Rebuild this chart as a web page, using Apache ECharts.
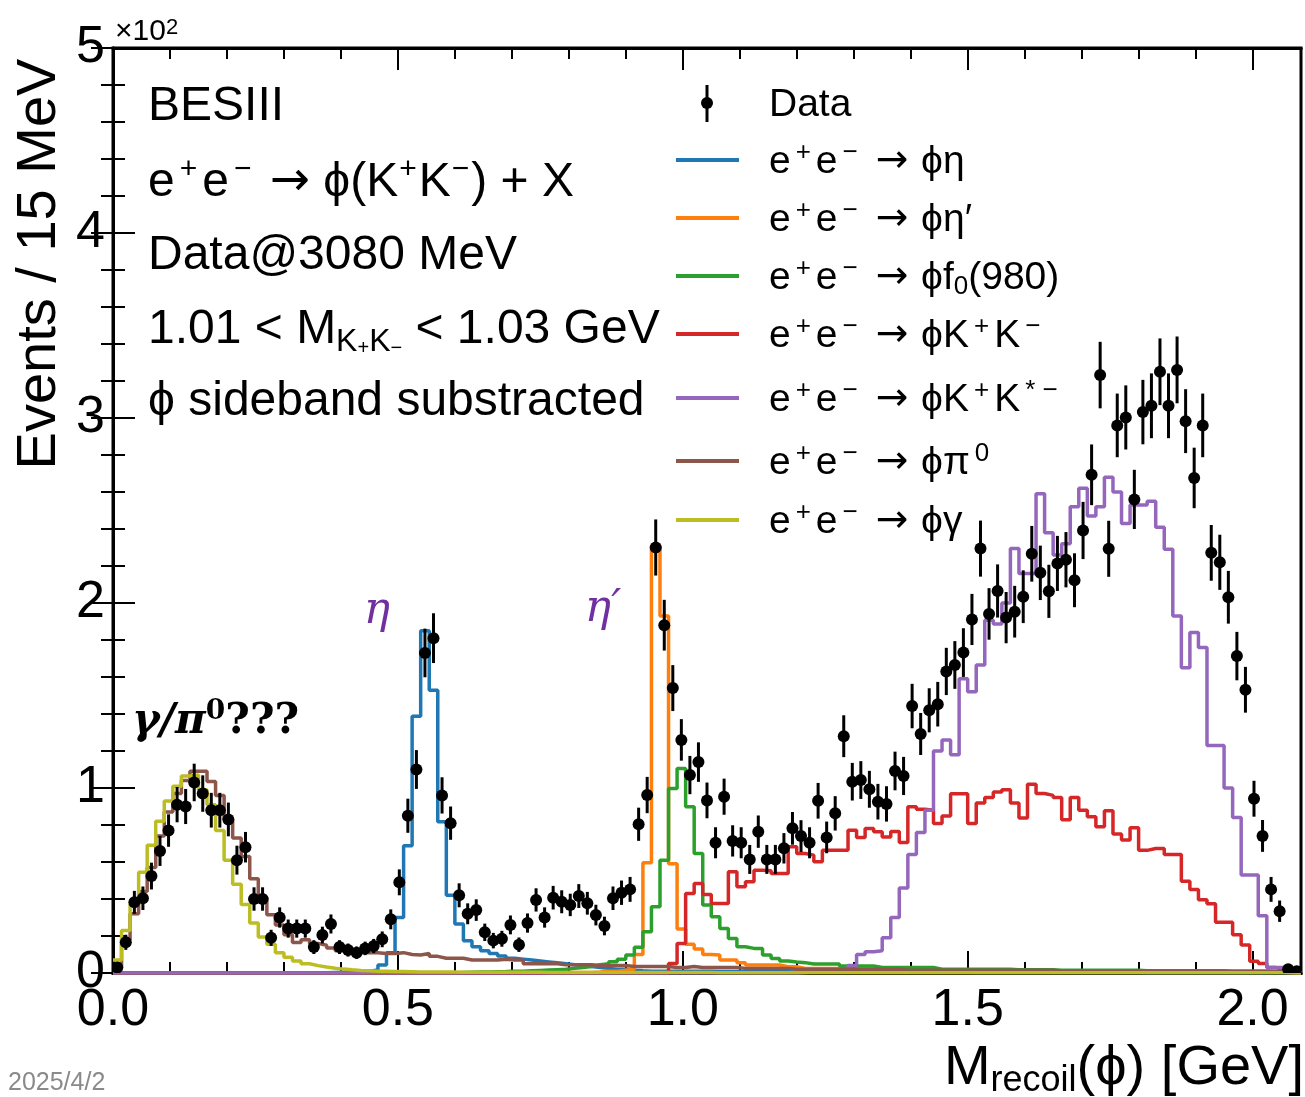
<!DOCTYPE html>
<html><head><meta charset="utf-8">
<script src="https://cdn.jsdelivr.net/npm/echarts/dist/echarts.min.js"></script>
<style>html,body{margin:0;padding:0;background:#fff}#c{width:1305px;height:1097px}</style>
</head><body><div id="c"></div>
<script>
// ---------------- DATA ----------------
const BIN_WIDTH = 0.015;   // GeV (15 MeV bins, starting at 0)
const X_MAX = 2.085;
const xTickLabels = ['0.0', '0.5', '1.0', '1.5', '2.0'];
const yTickLabels = ['0', '1', '2', '3', '4', '5'];

const dataCounts = [
  3, 16.6, 38.2, 40.4, 52.4, 66, 77, 91, 90, 103,
  97, 88, 88, 83, 61, 68, 40, 40, 19, 30,
  24, 24, 24, 14, 20.5, 26.5, 14, 12.4, 11, 13.3,
  14.6, 18.2, 29, 49, 85, 110, 173, 181, 96, 81,
  42, 32, 34, 22, 17.5, 18.5, 26, 15.3, 27, 39.5,
  30, 40.7, 38.5, 36.8, 41.6, 37.7, 31.3, 25.4, 40.4, 43.4,
  45.2, 80.4, 96.2, 230, 188, 154, 126, 107, 114, 93.3,
  70.4, 95.3, 71.4, 70.4, 61.4, 76.4, 61.4, 61.4, 67.4, 78.2,
  74, 70.4, 93.1, 73.3, 86.3, 128, 103.4, 104.3, 99.3, 92.6,
  91.4, 109.2, 106.5, 144.3, 129.2, 142, 145.3, 163, 166.5, 173.2,
  191.1, 229.4, 194.1, 206.5, 192.1, 195.3, 203.4, 226.6, 216.3, 206.3,
  221.4, 223.4, 212.3, 239.2, 269.3, 323.2, 229.3, 296, 300.3, 256,
  303.2, 306.6, 325, 306.6, 326, 298.3, 267.6, 296, 227.1, 222,
  203.1, 171.3, 153.1, 94.2, 74.1, 45.2, 33.4, 2, 1
];

const phiEta = [
  0, 0, 0, 0, 0, 0, 0, 0, 0, 0,
  0, 0, 0, 0, 0, 0, 0, 0, 0, 0,
  0, 0, 0, 0, 0.2, 0.3, 0.4, 0.5, 0.7, 1.0,
  1.6, 4.3, 11, 30, 68.8, 138.8, 185, 152.8, 81.7, 42,
  26.5, 17.5, 14.2, 12, 10.6, 9.2, 8, 7.5, 7, 6.5,
  6, 5.5, 5, 4.5, 4, 3.5, 3, 2.5, 2, 2,
  1.5, 1.2, 1, 1, 1, 1, 1, 1, 1, 1,
  0.8, 0.8, 0.8, 0.8, 0.8, 0.7, 0.7, 0.7, 0.7, 0.6,
  0.5, 0.5, 0.5, 0.5, 0.5, 0.5, 0.5, 0.5, 0.5, 0.5,
  0.4, 0.4, 0.4, 0.4, 0.4, 0.4, 0.4, 0.4, 0.4, 0.4,
  0.3, 0.3, 0.3, 0.3, 0.3, 0.3, 0.3, 0.3, 0.3, 0.3,
  0.3, 0.3, 0.3, 0.3, 0.3, 0.3, 0.3, 0.3, 0.3, 0.3,
  0.2, 0.2, 0.2, 0.2, 0.2, 0.2, 0.2, 0.2, 0.2, 0.2,
  0.2, 0.2, 0.2, 0.2, 0.1, 0.1, 0.1, 0.1, 0
];

const phiEtaPrime = [
  0, 0, 0, 0, 0, 0, 0, 0, 0, 0,
  0, 0, 0, 0, 0, 0, 0, 0, 0, 0,
  0, 0, 0, 0, 0, 0, 0, 0, 0, 0,
  0, 0, 0, 0, 0, 0, 0, 0, 0, 0,
  0.2, 0.2, 0.2, 0.2, 0.2, 0.2, 0.2, 0.2, 0.2, 0.2,
  0.3, 0.3, 0.3, 0.3, 0.3, 0.3, 0.5, 1, 1, 1.5,
  2, 10, 59.6, 231, 193, 59, 23.8, 15.5, 13, 10,
  9.7, 7, 7, 5.6, 4.3, 4.3, 4.3, 4.3, 3.4, 3.4,
  2.5, 2.5, 2.5, 2.5, 2.5, 2.5, 2, 2, 2, 2,
  1.5, 1.5, 1.5, 1.5, 1.5, 1.5, 1.5, 1.5, 1.5, 1.5,
  1, 1, 1, 1, 1, 1, 1, 1, 1, 1,
  1, 1, 1, 1, 1, 1, 1, 1, 1, 1,
  0.8, 0.8, 0.8, 0.8, 0.8, 0.8, 0.8, 0.8, 0.8, 0.8,
  0.6, 0.6, 0.6, 0.6, 0.5, 0.5, 0.4, 0.2, 0
];

const phiF0 = [
  0, 0, 0, 0, 0, 0, 0, 0, 0, 0,
  0, 0, 0, 0, 0, 0, 0, 0, 0, 0,
  0, 0, 0, 0, 0, 0, 0, 0, 0, 0,
  0, 0, 0, 0, 0, 0, 0, 0, 0, 0,
  0.3, 0.4, 0.5, 0.6, 0.7, 0.8, 1, 1, 1.2, 1.4,
  1.6, 1.8, 2, 2.5, 3, 3.5, 4.5, 5, 6.1, 7.4,
  9.7, 13.9, 22.3, 35.8, 61, 99.7, 110.5, 89.8, 64.6, 36.7,
  30.4, 24, 18.7, 14.2, 13.3, 13.3, 9.7, 7.9, 6.5, 6,
  5.6, 4.9, 4.9, 4.9, 4.9, 3.8, 3.8, 3.8, 3.8, 3,
  3, 3, 3, 3, 3, 3, 2, 2, 2, 2,
  2, 2, 2, 2, 2, 1.8, 1.8, 1.8, 1.8, 1.8,
  1.5, 1.5, 1.5, 1.5, 1.5, 1.5, 1.5, 1.5, 1.5, 1.5,
  1.2, 1.2, 1.2, 1.2, 1.2, 1.2, 1.2, 1.2, 1.2, 1.2,
  1, 1, 1, 1, 1, 0.8, 0.6, 0.3, 0
];

const phiKK = [
  0, 0, 0, 0, 0, 0, 0, 0, 0, 0,
  0, 0, 0, 0, 0, 0, 0, 0, 0, 0,
  0, 0, 0, 0, 0, 0, 0, 0, 0, 0,
  0, 0, 0, 0, 0, 0, 0, 0, 0, 0,
  0, 0, 0, 0, 0, 0, 0, 0, 0, 0,
  0, 0, 0, 0, 0, 0, 0, 0, 0, 0,
  0, 0, 0, 0, 0, 5.2, 16, 43, 48.4, 42.5,
  37.6, 37.6, 54.7, 46.6, 49.3, 55.6, 55.3, 53.8, 53.8, 68.2,
  64.6, 63.7, 60.1, 66.4, 66.4, 66.4, 77.2, 73.3, 78.1, 76.3,
  73.5, 76.5, 70.5, 89.8, 88.5, 88, 80.8, 84.8, 96.9, 96.9,
  80.8, 91.9, 94.9, 97.9, 99, 91.9, 83.8, 102, 97, 96,
  94.9, 82.8, 94.9, 88, 84.5, 79, 87.7, 75.2, 71.9, 78.5,
  66.3, 67.3, 67.3, 64.1, 64.1, 49.6, 45.2, 39.6, 37.4, 27.4,
  27.4, 20.7, 15.1, 6.3, 5.2, 3, 2, 1, 0
];

const phiKKstar = [
  0, 0, 0, 0, 0, 0, 0, 0, 0, 0,
  0, 0, 0, 0, 0, 0, 0, 0, 0, 0,
  0, 0, 0, 0, 0, 0, 0, 0, 0, 0,
  0, 0, 0, 0, 0, 0, 0, 0, 0, 0,
  0, 0, 0, 0, 0, 0, 0, 0, 0, 0,
  0, 0, 0, 0, 0, 0, 0, 0, 0, 0,
  0, 0, 0, 0, 0, 0, 0, 0, 0, 0,
  0, 0, 0, 0, 0, 0, 0, 0, 0, 0,
  0.3, 0.5, 0.8, 1, 1.5, 2, 4, 10, 11.5, 12,
  19, 30, 46, 64, 76, 88, 120, 126, 118, 159,
  152, 166.5, 190.7, 188.7, 200, 229.4, 215.9, 215.9, 259, 238,
  226, 232, 252, 262, 247, 252, 268, 260, 243, 253,
  253, 255, 241, 229, 193, 165, 184, 176, 123, 123,
  100, 84, 53, 53, 31, 3, 3, 1, 0
];

const phiPi0 = [
  3, 18, 32, 44, 57, 74, 87, 97, 104, 109,
  109, 103.5, 96, 83, 73, 63, 51, 41, 31.5, 26,
  20.7, 16.5, 18, 16, 15, 13.5, 12, 12, 11, 11,
  11, 10.5, 10.5, 11, 10, 9.7, 10.5, 9, 8, 8,
  8, 7, 7, 7, 7, 7.4, 7, 7, 5, 5,
  5, 5, 4.5, 4.5, 4.5, 4.5, 4, 4, 4, 4,
  3.5, 3.5, 3.5, 3.5, 3.5, 3, 3, 3.5, 3, 3,
  3, 3, 3, 2.5, 2.5, 2.5, 2.5, 2.5, 2.5, 2,
  2, 2, 2, 2, 2, 2, 2, 2, 2, 2,
  2, 2, 1.5, 1.5, 1.5, 1.5, 1.5, 1.5, 1.5, 1.5,
  1.5, 1.5, 1.5, 1.5, 1.5, 1.5, 1.5, 1.5, 1.5, 1.5,
  1, 1, 1, 1, 1, 1, 1, 1, 1, 1,
  1, 1, 1, 1, 1, 1, 1, 1, 1, 1,
  1, 1, 1, 1, 1, 0.8, 0.6, 0.3, 0
];

const phiGamma = [
  7, 23, 37, 54.5, 69, 82, 93, 101, 106.5, 107,
  99, 91, 77, 61, 48, 37, 27, 19.5, 15.5, 11,
  8.5, 6.5, 5, 4, 3.2, 2.6, 2.1, 1.7, 1.4, 1.2,
  1.0, 0.9, 0.8, 0.8, 0.7, 0.6, 0.6, 0.5, 0.5, 0.5,
  0.4, 0.4, 0.4, 0.4, 0.4, 0.4, 0.4, 0.4, 0.4, 0.4,
  0.3, 0.3, 0.3, 0.3, 0.3, 0.3, 0.3, 0.3, 0.3, 0.3,
  0.3, 0.3, 0.3, 0.3, 0.3, 0.3, 0.3, 0.3, 0.3, 0.3,
  0.2, 0.2, 0.2, 0.2, 0.2, 0.2, 0.2, 0.2, 0.2, 0.2,
  0.2, 0.2, 0.2, 0.2, 0.2, 0.2, 0.2, 0.2, 0.2, 0.2,
  0.2, 0.2, 0.2, 0.2, 0.2, 0.2, 0.2, 0.2, 0.2, 0.2,
  0.1, 0.1, 0.1, 0.1, 0.1, 0.1, 0.1, 0.1, 0.1, 0.1,
  0.1, 0.1, 0.1, 0.1, 0.1, 0.1, 0.1, 0.1, 0.1, 0.1,
  0.1, 0.1, 0.1, 0.1, 0.1, 0.1, 0.1, 0.1, 0.1, 0.1,
  0.1, 0.1, 0.1, 0.1, 0.1, 0.1, 0.1, 0.1, 0
];

const componentNames = ['ϕη', 'ϕη′', 'ϕf0(980)', 'ϕK+K−', 'ϕK+K*−', 'ϕπ0', 'ϕγ'];
const componentValues = [phiEta, phiEtaPrime, phiF0, phiKK, phiKKstar, phiPi0, phiGamma];

// ---------------- STYLE / LAYOUT ----------------
const componentColors = ['#1f77b4', '#ff7f0e', '#2ca02c', '#d62728', '#9467bd', '#8c564b', '#bcbd22'];
const FONT = "'Liberation Sans', Arial, Helvetica, sans-serif";
const ARROWFONT = "'DejaVu Sans', sans-serif";
const SERIF = "'DejaVu Serif', 'Liberation Serif', serif";
const legendRowsY = [103, 160, 218, 276, 334, 398, 461, 520];
const legendTexts = [
  'Data',
  'e{s|+}e{s|−} {a|→} ϕη',
  'e{s|+}e{s|−} {a|→} ϕη′',
  'e{s|+}e{s|−} {a|→} ϕf{b|0}(980)',
  'e{s|+}e{s|−} {a|→} ϕK{s|+}K{s|−}',
  'e{s|+}e{s|−} {a|→} ϕK{s|+}K{s|* −}',
  'e{s|+}e{s|−} {a|→} ϕπ{s|0}',
  'e{s|+}e{s|−} {a|→} ϕγ'
];
const infoLines = [
  {y: 107, text: 'BESIII'},
  {y: 183, text: 'e{s|+}e{s|−} {a|→} ϕ(K{t|+}K{t|−}) + X'},
  {y: 256, text: 'Data@3080 MeV'},
  {y: 330, text: '1.01 < M{b|K}{bs|+}{b|K}{bs|−} < 1.03 GeV'},
  {y: 402, text: 'ϕ sideband substracted'}
];

// ---------------- BUILD ----------------
function stepData(vals) {
  const pts = vals.map((v, i) => [i * BIN_WIDTH, v]);
  pts.push([vals.length * BIN_WIDTH, vals[vals.length - 1]]);
  return pts;
}
const dataPoints = dataCounts.map((v, i) => [(i + 0.5) * BIN_WIDTH, v, Math.sqrt(Math.max(v, 1))]);

const histSeries = componentValues.map((vals, k) => ({
  type: 'line', name: componentNames[k], step: 'end', data: stepData(vals),
  symbol: 'none', clip: true, silent: true, z: 3 + k,
  lineStyle: {color: componentColors[k], width: 3.5}
}));

const dataSeries = {
  type: 'custom', name: 'Data', data: dataPoints, clip: true, z: 20, silent: true,
  encode: {x: 0, y: 1},
  renderItem: function (params, api) {
    const x = api.value(0), y = api.value(1), e = api.value(2);
    const c = api.coord([x, y]);
    const t = api.coord([x, y + e]);
    const b = api.coord([x, Math.max(0, y - e)]);
    return {type: 'group', children: [
      {type: 'line', shape: {x1: c[0], y1: t[1], x2: c[0], y2: b[1]}, style: {stroke: '#000', lineWidth: 3}},
      {type: 'circle', shape: {cx: c[0], cy: c[1], r: 6}, style: {fill: '#000'}}
    ]};
  }
};

const tickStyle = {color: '#000', width: 2};
function xAxisDef(position, interval, len, showLabel) {
  return {
    type: 'value', min: 0, max: X_MAX, interval: interval, position: position,
    axisLine: {show: true, lineStyle: {color: '#000', width: 3}},
    axisTick: {show: true, inside: true, length: len, lineStyle: tickStyle},
    splitLine: {show: false},
    axisLabel: {
      show: showLabel, fontSize: 52, color: '#000', fontFamily: FONT, margin: 12,
      showMaxLabel: false,
      formatter: function (v) { const i = Math.round(v / 0.5); return Math.abs(v - i * 0.5) < 1e-6 ? (xTickLabels[i] || '') : ''; }
    }
  };
}
function yAxisDef(position, showLabel) {
  return {
    type: 'value', min: 0, max: 500, interval: 100, position: position,
    axisLine: {show: true, lineStyle: {color: '#000', width: 3}},
    axisTick: {show: true, inside: true, length: 22, lineStyle: tickStyle},
    minorTick: {show: true, splitNumber: 5, length: 12, lineStyle: tickStyle},
    splitLine: {show: false},
    axisLabel: {
      show: showLabel, fontSize: 52, color: '#000', fontFamily: FONT, margin: 8,
      formatter: function (v) { return yTickLabels[Math.round(v / 100)]; }
    }
  };
}

const graphics = [];
// y-axis exponent
graphics.push({type: 'text', x: 115, y: 32, style: {
  text: '×10{s|2}', fontSize: 30, fontFamily: FONT, fill: '#000', verticalAlign: 'middle', align: 'left',
  rich: {s: {fontSize: 22, lineHeight: 22, verticalAlign: 'top', fontFamily: FONT, fill: '#000'}}
}});
// axis titles
graphics.push({type: 'text', x: 40, y: 264, rotation: Math.PI / 2, style: {
  text: 'Events / 15 MeV', fontSize: 56, fontFamily: FONT, fill: '#000', align: 'center', verticalAlign: 'middle'
}});
graphics.push({type: 'text', x: 1304, y: 1069, style: {
  text: 'M{b|recoil}(ϕ) [GeV]', fontSize: 56, lineHeight: 60, fontFamily: FONT, fill: '#000', align: 'right', verticalAlign: 'middle',
  rich: {b: {fontSize: 36, lineHeight: 36, verticalAlign: 'bottom', fontFamily: FONT, fill: '#000'}}
}});
// info text block
infoLines.forEach(function (ln) {
  graphics.push({type: 'text', x: 148, y: ln.y, z: 30, style: {
    text: ln.text, fontSize: 48, lineHeight: 56, fontFamily: FONT, fill: '#000', align: 'left', verticalAlign: 'middle',
    rich: {
      s: {fontSize: 30, lineHeight: 30, verticalAlign: 'top', fontFamily: FONT, fill: '#000', padding: [0, 5, 0, 5]},
      t: {fontSize: 30, lineHeight: 30, verticalAlign: 'top', fontFamily: FONT, fill: '#000', padding: [0, 2, 0, 1]},
      a: {fontSize: 48, lineHeight: 56, fontFamily: ARROWFONT, fill: '#000'},
      b: {fontSize: 32, lineHeight: 22, verticalAlign: 'bottom', fontFamily: FONT, fill: '#000'},
      bs: {fontSize: 20, lineHeight: 50, verticalAlign: 'bottom', fontFamily: FONT, fill: '#000'}
    }
  }});
});
// legend
legendTexts.forEach(function (txt, k) {
  const y = legendRowsY[k];
  if (k === 0) {
    graphics.push({type: 'line', shape: {x1: 707, y1: y - 18, x2: 707, y2: y + 19}, style: {stroke: '#000', lineWidth: 3}});
    graphics.push({type: 'circle', shape: {cx: 707, cy: y, r: 6}, style: {fill: '#000'}});
  } else {
    graphics.push({type: 'line', shape: {x1: 676, y1: y, x2: 739, y2: y}, style: {stroke: componentColors[k - 1], lineWidth: 4}});
  }
  graphics.push({type: 'text', x: 769, y: y + 2, style: {
    text: txt, fontSize: 39, lineHeight: 44, fontFamily: FONT, fill: '#000', align: 'left', verticalAlign: 'middle',
    rich: {
      s: {fontSize: 26, lineHeight: 22, verticalAlign: 'top', fontFamily: FONT, fill: '#000', padding: [0, 5, 0, 5]},
      a: {fontSize: 39, lineHeight: 44, fontFamily: ARROWFONT, fill: '#000', padding: [0, 2, 0, 2]},
      b: {fontSize: 26, lineHeight: 24, verticalAlign: 'bottom', fontFamily: FONT, fill: '#000'}
    }
  }});
});
// annotations
graphics.push({type: 'text', x: 377, y: 612, style: {
  text: 'η', fontSize: 44, fontStyle: 'italic', fontFamily: SERIF, fill: '#7030a0', align: 'center', verticalAlign: 'middle'
}});
graphics.push({type: 'text', x: 603, y: 610, style: {
  text: 'η′', fontSize: 44, fontStyle: 'italic', fontFamily: SERIF, fill: '#7030a0', align: 'center', verticalAlign: 'middle'
}});
graphics.push({type: 'text', x: 132, y: 722, style: {
  text: '{i|γ/π}{s|0}{q|???}', align: 'left', verticalAlign: 'middle', fontSize: 42, fontFamily: SERIF, fill: '#000',
  rich: {
    i: {fontSize: 42, lineHeight: 48, fontStyle: 'italic', fontWeight: 'bold', fontFamily: SERIF, fill: '#000'},
    s: {fontSize: 28, lineHeight: 26, verticalAlign: 'top', fontWeight: 'bold', fontFamily: SERIF, fill: '#000'},
    q: {fontSize: 42, lineHeight: 48, fontWeight: 'bold', fontFamily: SERIF, fill: '#000'}
  }
}});
graphics.push({type: 'text', x: 8, y: 1083, style: {
  text: '2025/4/2', fontSize: 25, fontFamily: FONT, fill: '#8a8a8a', align: 'left', verticalAlign: 'middle'
}});

const option = {
  animation: false,
  backgroundColor: '#fff',
  grid: {left: 113, right: 4, top: 48, bottom: 124, show: true, borderColor: '#000', borderWidth: 3, containLabel: false},
  xAxis: [
    xAxisDef('bottom', 0.5, 22, true),
    xAxisDef('bottom', 0.1, 11, false),
    xAxisDef('top', 0.5, 22, false),
    xAxisDef('top', 0.1, 11, false)
  ],
  yAxis: [yAxisDef('left', true), yAxisDef('right', false)],
  series: histSeries.concat([dataSeries]),
  graphic: graphics
};

const chart = echarts.init(document.getElementById('c'), null, {renderer: 'canvas'});
chart.setOption(option);
</script>
</body></html>
